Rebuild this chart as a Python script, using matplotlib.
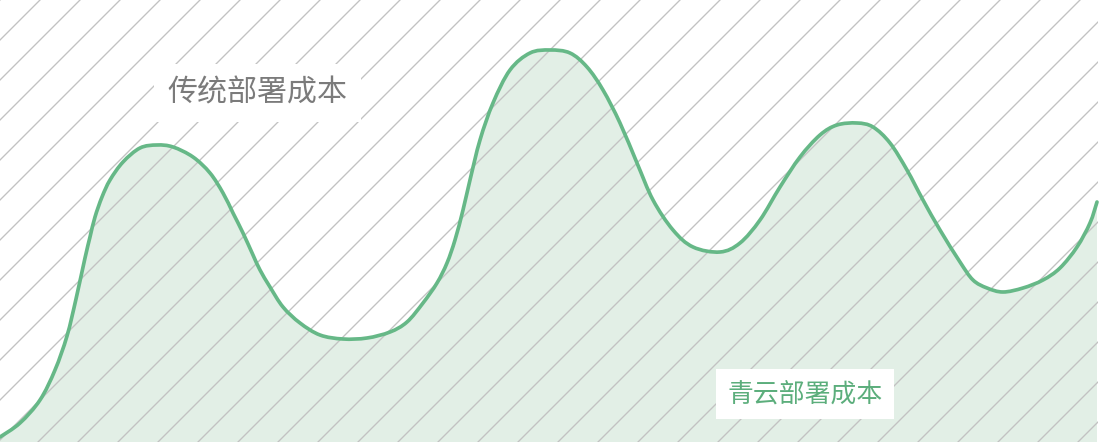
import matplotlib.pyplot as plt
from matplotlib.patches import Rectangle, PathPatch
from matplotlib.path import Path

plt.rcParams['font.family'] = ['Noto Sans CJK SC', 'DejaVu Sans']
plt.rcParams['hatch.linewidth'] = 0.8

# Curve (x position, cost height)
x_pos = [0, 20, 40, 55, 67, 76, 85, 90, 95, 102, 110, 123, 140, 157, 173, 193,
         210, 223, 233, 243, 253, 260, 270, 283, 300, 320, 343, 367, 390, 407,
         423, 437, 447, 455, 463, 470, 480, 493, 510, 530, 550, 570, 587, 603,
         620, 637, 653, 673, 693, 720, 740, 760, 780, 800, 820, 837, 857, 873,
         890, 907, 923, 940, 960, 973, 987, 1003, 1023, 1043, 1060, 1077, 1090, 1097]
cost = [5, 19, 42, 72, 106, 143, 184, 205, 225, 245, 262, 280, 294, 297, 295, 285,
        269, 249, 229, 209, 187, 172, 155, 135, 119, 107, 103, 104, 110, 120,
        139, 159, 179, 202, 232, 262, 302, 339, 372, 389, 392, 389, 375, 352,
        319, 279, 242, 212, 195, 190, 199, 222, 255, 285, 307, 317, 319, 315,
        299, 272, 242, 212, 180, 162, 154, 150, 154, 162, 174, 195, 219, 240]

label_traditional = '传统部署成本'
label_qingcloud = '青云部署成本'

green = '#66b887'


def smooth_path(xs, ys):
    # Catmull-Rom through the points, drawn as cubic Bezier segments
    pts = list(zip(xs, ys))
    n = len(pts)
    verts = [pts[0]]
    codes = [Path.MOVETO]
    for i in range(n - 1):
        p0 = pts[max(i - 1, 0)]
        p1 = pts[i]
        p2 = pts[i + 1]
        p3 = pts[min(i + 2, n - 1)]
        c1 = (p1[0] + (p2[0] - p0[0]) / 6, p1[1] + (p2[1] - p0[1]) / 6)
        c2 = (p2[0] - (p3[0] - p1[0]) / 6, p2[1] - (p3[1] - p1[1]) / 6)
        verts += [c1, c2, p2]
        codes += [Path.CURVE4] * 3
    return verts, codes


fig = plt.figure(figsize=(1101 / 120, 442 / 120), dpi=120)
ax = fig.add_axes([0, 0, 1, 1])
ax.set_xlim(0, 1101)
ax.set_ylim(0, 442)
ax.axis('off')

verts, codes = smooth_path(x_pos, cost)

# light green area under the curve
area = verts + [(x_pos[-1], 0), (x_pos[0], 0), verts[0]]
area_codes = codes + [Path.LINETO, Path.LINETO, Path.CLOSEPOLY]
ax.add_patch(PathPatch(Path(area, area_codes), facecolor='#e2efe6', lw=0, zorder=1))

# diagonal hatching over the whole plot
ax.add_patch(Rectangle((0, 0), 1098, 442, facecolor='none', edgecolor='#c2c2c2',
                       hatch='/', lw=0, zorder=2))

ax.add_patch(PathPatch(Path(verts, codes), facecolor='none', edgecolor=green,
                       lw=2.2, capstyle='round', zorder=3))

ax.text(257, 349, label_traditional, fontsize=18, color='#7b7b7b',
        fontweight='medium', ha='center', va='center', zorder=4,
        bbox=dict(boxstyle='square,pad=0.45', fc='white', ec='none'))
ax.text(805, 48, label_qingcloud, fontsize=15.5, color='#5cae7c',
        fontweight='medium', ha='center', va='center', zorder=4,
        bbox=dict(boxstyle='square,pad=0.45', fc='white', ec='none'))

fig.savefig('out.png', dpi=120)
